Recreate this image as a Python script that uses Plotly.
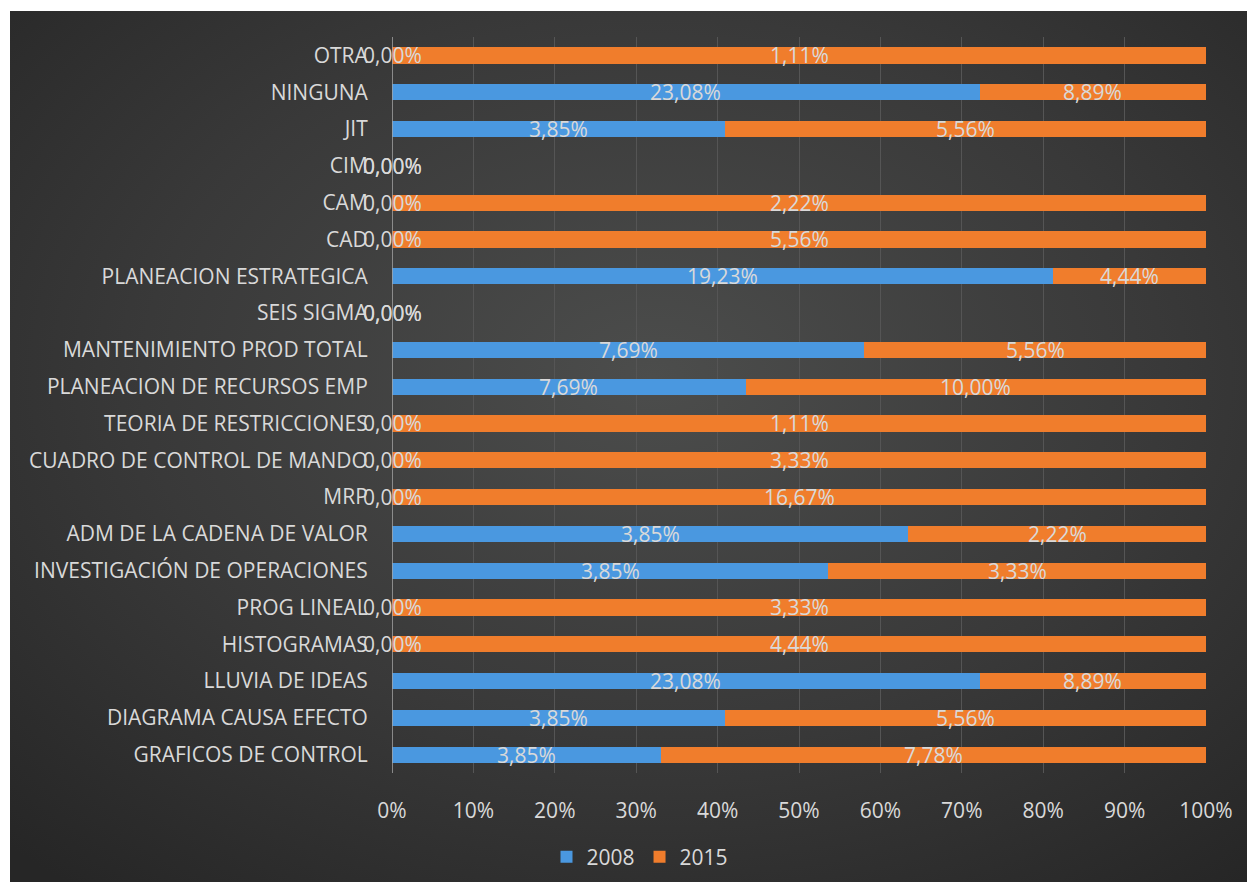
import base64
import plotly.graph_objects as go

# Categories listed bottom to top
categories = [
    "GRAFICOS DE CONTROL",
    "DIAGRAMA CAUSA EFECTO",
    "LLUVIA DE IDEAS",
    "HISTOGRAMAS",
    "PROG LINEAL",
    "INVESTIGACIÓN DE OPERACIONES",
    "ADM DE LA CADENA DE VALOR",
    "MRP",
    "CUADRO DE CONTROL DE MANDO",
    "TEORIA DE RESTRICCIONES",
    "PLANEACION DE RECURSOS EMP",
    "MANTENIMIENTO PROD TOTAL",
    "SEIS SIGMA",
    "PLANEACION ESTRATEGICA",
    "CAD",
    "CAM",
    "CIM",
    "JIT",
    "NINGUNA",
    "OTRA",
]
values_2008 = [3.85, 3.85, 23.08, 0.00, 0.00, 3.85, 3.85, 0.00, 0.00, 0.00,
               7.69, 7.69, 0.00, 19.23, 0.00, 0.00, 0.00, 3.85, 23.08, 0.00]
values_2015 = [7.78, 5.56, 8.89, 4.44, 3.33, 3.33, 2.22, 16.67, 3.33, 1.11,
               10.00, 5.56, 0.00, 4.44, 5.56, 2.22, 0.00, 5.56, 8.89, 1.11]
series_names = ["2008", "2015"]
x_ticks = list(range(0, 101, 10))
x_tick_text = [f"{t}%" for t in x_ticks]

BLUE = "#4a98e0"
ORANGE = "#f07d2c"
TXT = "#d9d9d9"
FONT = "Open Sans, Noto Sans, sans-serif"
FS = 21

W, H = 1247, 882
L, R, T, B = 392, 41, 37, 109
plot_w = W - L - R
plot_h = H - T - B


def fmt(v):
    return f"{v:.2f}".replace(".", ",") + "%"


fig = go.Figure()
for name, vals, col in [(series_names[0], values_2008, BLUE),
                        (series_names[1], values_2015, ORANGE)]:
    fig.add_trace(go.Bar(
        y=categories, x=vals, name=name, orientation="h",
        marker=dict(color=col, line=dict(width=0)),
        hoverinfo="x+y",
    ))

# Data labels centred on each normalised segment
annotations = []
for cat, a, b in zip(categories, values_2008, values_2015):
    tot = a + b
    if tot > 0:
        pa, pb = a / tot * 100, b / tot * 100
    else:
        pa = pb = 0
    segs = [(a, pa / 2 if a > 0 else 0), (b, pa + pb / 2 if b > 0 else 0)]
    for v, xc in segs:
        annotations.append(dict(
            x=xc, y=cat, xref="x", yref="y", text=fmt(v), showarrow=False,
            font=dict(family=FONT, size=FS, color=TXT),
            xanchor="center", yanchor="middle",
        ))

# Radial gradient backdrop
svg = (
    '<svg xmlns="http://www.w3.org/2000/svg" width="1237" height="871" '
    'preserveAspectRatio="none" viewBox="0 0 1237 871">'
    '<defs><radialGradient id="g" cx="0.52" cy="0.42" r="0.75">'
    '<stop offset="0" stop-color="#4c4d4c"/>'
    '<stop offset="0.55" stop-color="#393939"/>'
    '<stop offset="1" stop-color="#262626"/>'
    '</radialGradient></defs>'
    '<rect width="1237" height="871" fill="url(#g)"/></svg>'
)
src = "data:image/svg+xml;base64," + base64.b64encode(svg.encode()).decode()

px0, py0, px1, py1 = 10, 11, 1247, 882
img = dict(
    source=src, xref="paper", yref="paper",
    x=(px0 - L) / plot_w, y=(H - B - py0) / plot_h,
    sizex=(px1 - px0) / plot_w, sizey=(py1 - py0) / plot_h,
    xanchor="left", yanchor="top", sizing="stretch", layer="below",
)

fig.update_layout(
    width=W, height=H,
    margin=dict(l=L, r=R, t=T, b=B, pad=0, autoexpand=False),
    barmode="stack", barnorm="percent", bargap=0.56,
    paper_bgcolor="white", plot_bgcolor="rgba(0,0,0,0)",
    font=dict(family=FONT, size=FS, color=TXT),
    images=[img],
    annotations=annotations,
    showlegend=True,
    legend=dict(
        orientation="h", xref="container", yref="container",
        x=640 / W, y=1 - 857 / H,
        xanchor="center", yanchor="middle",
        font=dict(family=FONT, size=FS, color=TXT),
        bgcolor="rgba(0,0,0,0)", traceorder="normal",
        itemwidth=30,
    ),
    xaxis=dict(
        range=[0, 100], tickmode="array", tickvals=x_ticks, ticktext=x_tick_text,
        showgrid=True, gridcolor="#555555", gridwidth=1,
        zeroline=False, showline=False,
        ticks="outside", ticklen=19, tickcolor="rgba(0,0,0,0)",
        tickfont=dict(family=FONT, size=FS, color=TXT),
        fixedrange=True,
    ),
    yaxis=dict(
        type="category", categoryorder="array", categoryarray=categories,
        range=[-0.5, len(categories) - 0.5],
        showgrid=False, zeroline=False, showline=False,
        ticks="outside", ticklen=19, tickcolor="rgba(0,0,0,0)",
        tickfont=dict(family=FONT, size=FS, color=TXT),
        fixedrange=True,
    ),
    shapes=[dict(
        type="line", xref="x", yref="paper", x0=0, x1=0, y0=0, y1=1,
        line=dict(color="#a6a6a6", width=1.5), layer="above",
    )],
)

fig.write_html("out.html")
